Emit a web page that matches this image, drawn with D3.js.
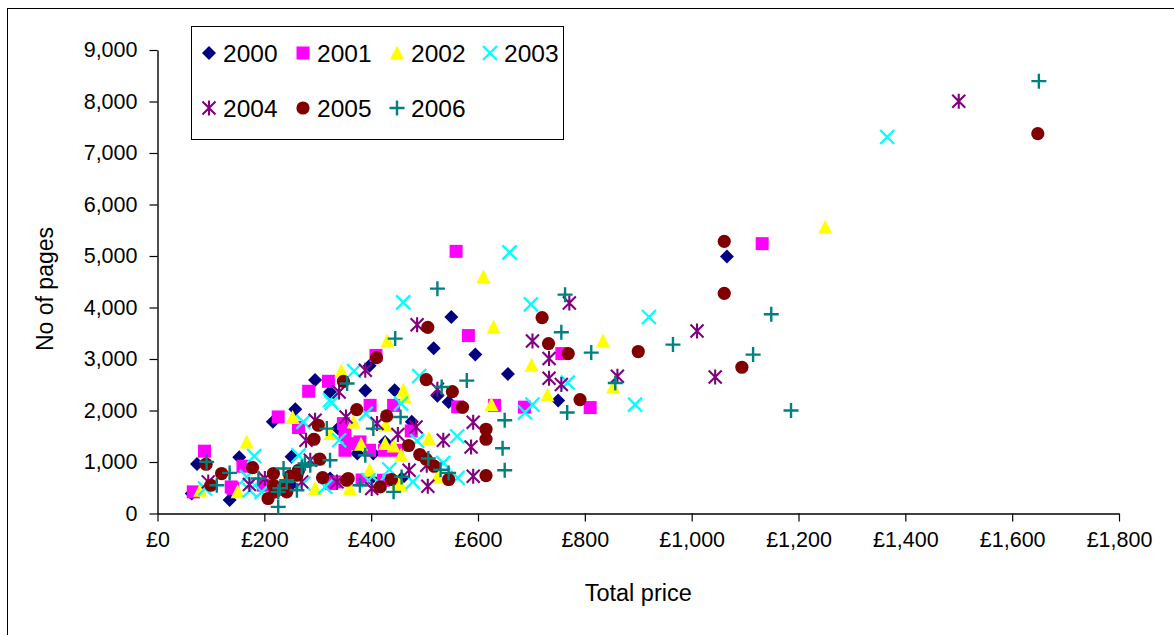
<!DOCTYPE html>
<html>
<head>
<meta charset="utf-8">
<script src="https://cdn.jsdelivr.net/npm/d3@7/dist/d3.min.js"></script>
<style>
  html, body { margin: 0; padding: 0; background: #fff; }
  svg { display: block; }
  text { font-family: "Liberation Sans", Arial, sans-serif; fill: #000; }
</style>
</head>
<body>
<svg id="chart" width="1174" height="635"></svg>
<script>
// ---- data: [total price (£), number of pages] ----
const years = ["2000", "2001", "2002", "2003", "2004", "2005", "2006"];

const data2000 = [
  [1066,4990],[750,2195],[550,3815],[517,3210],[595,3085],[397,2870],[323,2360],[389,2390],
  [444,2395],[524,2285],[545,2165],[338,1650],[476,1780],[374,1165],[404,1165],[426,1390],
  [323,680],[457,680],[295,2590],[258,2025],[216,1780],[74,960],[153,1090],[64,390],
  [135,260],[251,1100],[656,2710],[345,1620],[400,680],[250,560]
];
const data2001 = [
  [1132,5240],[559,5090],[582,3455],[409,3070],[631,2100],[687,2065],[810,2057],[757,3105],
  [562,2070],[442,2100],[398,2100],[348,1746],[475,1603],[351,1520],[351,1228],[379,1390],
  [397,1228],[425,1228],[448,1228],[332,614],[423,646],[320,2567],[283,2373],[226,1875],
  [264,1670],[88,1210],[160,918],[138,516],[67,420],[326,582],[198,550],[141,490],[383,650],
  [360,1356]
];
const data2002 = [
  [1250,5560],[610,4590],[629,3620],[430,3350],[344,2767],[460,2393],[463,2263],[625,2115],
  [730,2300],[853,2457],[834,3350],[700,2880],[508,1455],[456,1131],[442,1312],[426,1358],
  [427,1713],[367,1778],[381,1345],[397,840],[456,549],[360,485],[524,711],[253,1862],
  [324,1552],[167,1390],[150,420],[80,452],[295,485],[235,560],[450,600]
];
const data2003 = [
  [1366,7310],[659,5070],[460,4100],[699,4060],[920,3815],[894,2115],[768,2542],[702,2115],
  [688,1960],[490,2670],[368,2767],[323,2200],[456,2134],[390,1940],[340,1422],[486,1409],
  [561,1500],[434,854],[478,614],[395,646],[535,982],[562,691],[326,2147],[273,1778],
  [181,1115],[89,485],[173,452],[195,420],[167,711],[264,1131],[273,582],[314,516],[414,600]
];
const data2004 = [
  [1500,8005],[1010,3545],[1044,2652],[861,2664],[756,2503],[733,2626],[733,3008],[771,4087],
  [702,3350],[486,3667],[389,2781],[340,2360],[524,2412],[591,1772],[587,1293],[591,724],
  [535,1422],[484,1681],[450,1533],[411,1746],[353,1875],[506,530],[504,937],[401,485],
  [471,840],[295,1811],[278,1422],[95,614],[172,562],[201,679],[286,1034],[270,614],[336,614]
];
const data2005 = [
  [1648,7375],[1061,5285],[1061,4275],[900,3145],[1094,2840],[791,2212],[769,3105],[732,3300],
  [720,3805],[506,3615],[410,3027],[348,2567],[503,2600],[552,2367],[571,2063],[615,1636],
  [615,1442],[615,737],[545,660],[518,918],[503,1054],[491,1145],[470,1320],[429,1894],
  [373,2018],[438,660],[417,516],[357,679],[301,1714],[293,1442],[91,957],[120,776],
  [178,892],[100,549],[207,291],[220,420],[217,776],[248,724],[233,516],[239,452],
  [264,840],[304,1054],[309,698],[354,646],[229,490],[242,420],[261,743],[217,549]
];
const data2006 = [
  [1650,8395],[1149,3868],[965,3280],[1115,3085],[1186,2000],[767,1960],[857,2535],[812,3124],
  [763,4250],[756,3518],[524,4366],[445,3396],[355,2523],[532,2457],[579,2581],[650,1811],
  [646,1267],[650,840],[545,788],[455,1875],[404,1649],[389,1131],[457,711],[442,420],
  [379,549],[507,1067],[317,1649],[92,1002],[135,788],[236,873],[189,679],[111,549],
  [242,614],[226,420],[226,128],[261,452],[270,905],[286,937],[323,1034],[530,850],
  [229,490],[276,970],[242,646]
];

const seriesData = [data2000, data2001, data2002, data2003, data2004, data2005, data2006];
const colors = ["#000080", "#FF00FF", "#FFFF00", "#00FFFF", "#800080", "#800000", "#008080"];
const shapes = ["diamond", "square", "triangle", "cross", "star", "circle", "plus"];

const xTicks = [0, 200, 400, 600, 800, 1000, 1200, 1400, 1600, 1800];
const yTicks = [0, 1000, 2000, 3000, 4000, 5000, 6000, 7000, 8000, 9000];

// ---- layout ----
const svg = d3.select("#chart");
const L = 157.5, R = 1119, T = 50, B = 513.5;

const x = d3.scaleLinear().domain([0, 1800]).range([L, R]);
const y = d3.scaleLinear().domain([0, 9000]).range([B, T]);

// outer chart border
svg.append("rect").attr("x", 7.5).attr("y", 8.5).attr("width", 1180).attr("height", 640)
  .attr("fill", "none").attr("stroke", "#000").attr("stroke-width", 1);

// axes
const fmtX = v => "£" + d3.format(",")(v);
const fmtY = d3.format(",");

const xAxis = svg.append("g").attr("transform", `translate(0,${B})`)
  .call(d3.axisBottom(x).tickValues(xTicks).tickFormat(fmtX).tickSizeInner(8).tickSizeOuter(0).tickPadding(10));
const yAxis = svg.append("g").attr("transform", `translate(${L},0)`)
  .call(d3.axisLeft(y).tickValues(yTicks).tickFormat(fmtY).tickSizeInner(8).tickSizeOuter(0).tickPadding(12));

[xAxis, yAxis].forEach(g => {
  g.select(".domain").attr("stroke", "#000").attr("stroke-width", 1.4);
  g.selectAll(".tick line").attr("stroke", "#000").attr("stroke-width", 1.2);
  g.selectAll(".tick text").attr("font-family", '"Liberation Sans", Arial, sans-serif')
    .attr("font-size", 21.5).attr("fill", "#000");
});

// axis titles
svg.append("text").attr("x", (L + R) / 2).attr("y", 601).attr("text-anchor", "middle")
  .attr("font-size", 23.5).text("Total price");
svg.append("text").attr("transform", `translate(53,${289}) rotate(-90)`).attr("text-anchor", "middle")
  .attr("font-size", 23).text("No of pages");

// marker drawing
function drawMarker(g, shape, color) {
  switch (shape) {
    case "diamond":
      g.append("path").attr("d", "M0,-7L7,0L0,7L-7,0Z").attr("fill", color);
      break;
    case "square":
      g.append("rect").attr("x", -6.5).attr("y", -6.5).attr("width", 13).attr("height", 13).attr("fill", color);
      break;
    case "triangle":
      g.append("path").attr("d", "M0,-7.5L7,6.5L-7,6.5Z").attr("fill", color);
      break;
    case "circle":
      g.append("circle").attr("r", 6.6).attr("fill", color);
      break;
    case "cross":
      g.append("path").attr("d", "M-7,-7L7,7M-7,7L7,-7")
        .attr("stroke", color).attr("stroke-width", 2.3).attr("fill", "none");
      break;
    case "star":
      g.append("path").attr("d", "M-6.5,-6.5L6.5,6.5M-6.5,6.5L6.5,-6.5M0,-7.5L0,7.5")
        .attr("stroke", color).attr("stroke-width", 2.1).attr("fill", "none");
      break;
    case "plus":
      g.append("path").attr("d", "M-7.5,0L7.5,0M0,-7.5L0,7.5")
        .attr("stroke", color).attr("stroke-width", 2.4).attr("fill", "none");
      break;
  }
}

// points
const plot = svg.append("g");
seriesData.forEach((arr, i) => {
  const sg = plot.append("g").attr("class", "series-" + years[i]);
  arr.forEach(d => {
    const g = sg.append("g").attr("transform", `translate(${x(d[0])},${y(d[1])})`);
    drawMarker(g, shapes[i], colors[i]);
  });
});

// legend
const lg = svg.append("g");
lg.append("rect").attr("x", 191.5).attr("y", 26.5).attr("width", 372).attr("height", 113)
  .attr("fill", "#fff").attr("stroke", "#000").attr("stroke-width", 1);
const legX = [209, 303, 397, 490];
const legY = [53, 108];
years.forEach((yr, i) => {
  const cx = legX[i % 4], cy = legY[Math.floor(i / 4)];
  const g = lg.append("g").attr("transform", `translate(${cx},${cy})`);
  drawMarker(g, shapes[i], colors[i]);
  lg.append("text").attr("x", cx + 14).attr("y", cy).attr("dy", "0.36em")
    .attr("font-size", 24.5).text(yr);
});
</script>
</body>
</html>
